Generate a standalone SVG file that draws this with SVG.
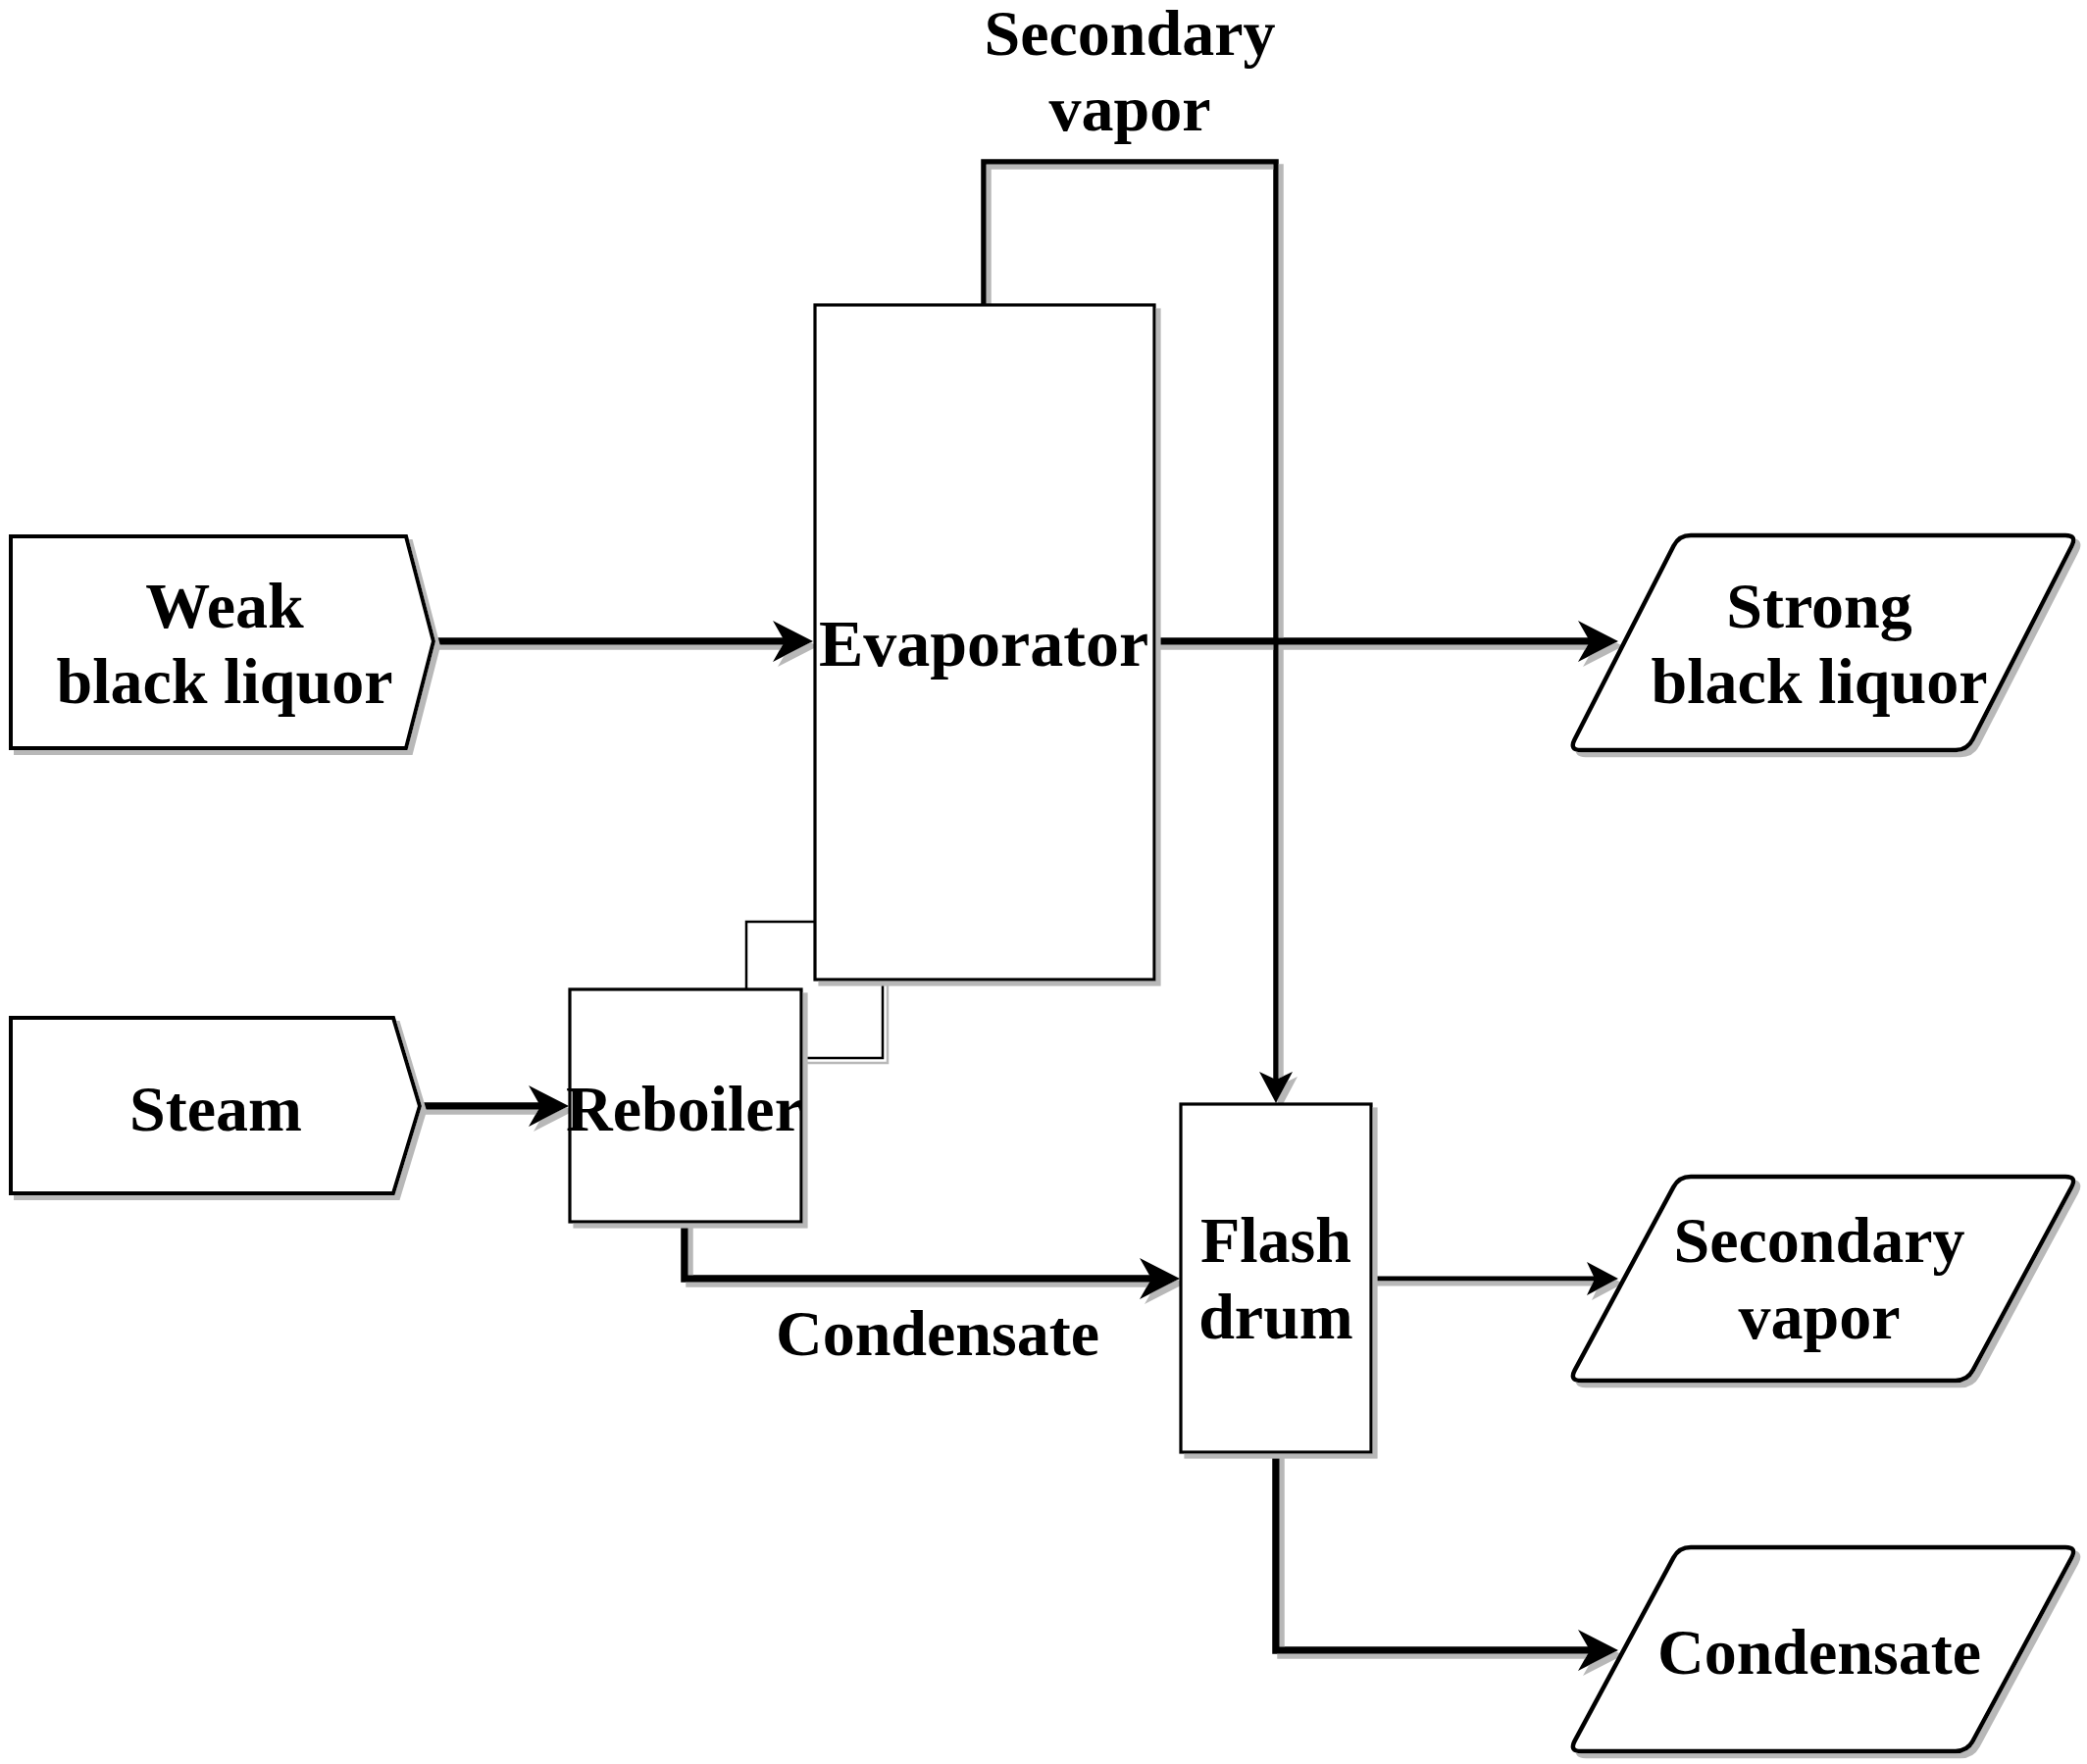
<svg xmlns="http://www.w3.org/2000/svg" width="2128" height="1799" viewBox="0 0 2128 1799">
<style>
.lbl{font-family:"Liberation Serif","Times New Roman",serif;font-weight:bold;font-size:66px;text-anchor:middle;fill:#000}
.box{fill:#fff;stroke:#000;stroke-width:3.2}
.io{fill:#fff;stroke:#000;stroke-width:4.5;stroke-linejoin:round}
.src{fill:#fff;stroke:#000;stroke-width:4}
.thick{fill:none;stroke:#000;stroke-width:7.5}
.mid{fill:none;stroke:#000;stroke-width:5.5}
.thin{fill:none;stroke:#000;stroke-width:5}
.hair{fill:none;stroke:#000;stroke-width:2.5}
</style>
<defs>
<filter id="sh" x="-5%" y="-5%" width="115%" height="115%">
<feOffset in="SourceAlpha" dx="5" dy="5" result="o"/>
<feFlood flood-color="#b8b8b8"/>
<feComposite in2="o" operator="in" result="s"/>
<feMerge><feMergeNode in="s"/><feMergeNode in="SourceGraphic"/></feMerge>
</filter>
<marker id="big" markerUnits="userSpaceOnUse" viewBox="0 0 41 42" markerWidth="41" markerHeight="42" refX="12" refY="21" orient="auto">
<path d="M0,0 L41,21 L0,42 L12,21 Z" fill="#000"/>
</marker>
<marker id="small" markerUnits="userSpaceOnUse" viewBox="0 0 32 34" markerWidth="32" markerHeight="34" refX="8" refY="17" orient="auto">
<path d="M0,0 L32,17 L0,34 L8,17 Z" fill="#000"/>
</marker>
</defs>
<rect width="2128" height="1799" fill="#fff"/>

<g id="connectors">
<g filter="url(#sh)">
<path class="thick" d="M442,654 L800,654" marker-end="url(#big)"/>
<path class="thick" d="M428,1128 L551,1128" marker-end="url(#big)"/>
<path class="thick" d="M1177,654 L1621,654" marker-end="url(#big)"/>
<path class="mid" d="M1003,311 L1003,165 L1301,165 L1301,1101" marker-end="url(#small)"/>
<path class="hair" d="M900,999 L900,1079 L817,1079"/>
<path class="thick" d="M698,1246 L698,1304 L1174,1304" marker-end="url(#big)"/>
<path class="thin" d="M1398,1304 L1626,1304" marker-end="url(#small)"/>
<path class="thick" d="M1301,1481 L1301,1683 L1621,1683" marker-end="url(#big)"/>
</g>
<path class="hair" d="M761,1009 L761,940 L830,940"/>
</g>

<g id="weak" filter="url(#sh)">
<path class="src" d="M11,547 L414,547 L442,654 L414,763 L11,763 Z"/>
</g>
<text class="lbl" x="229" y="640">Weak</text>
<text class="lbl" x="229" y="717">black liquor</text>

<g id="steam" filter="url(#sh)">
<path class="src" d="M11,1038 L401,1038 L428,1128 L401,1217 L11,1217 Z"/>
</g>
<text class="lbl" x="220" y="1153">Steam</text>

<g id="evaporator" filter="url(#sh)">
<rect class="box" x="831" y="311" width="346" height="688"/>
</g>
<text class="lbl" x="1003" y="679" style="font-size:68px">Evaporator</text>

<g id="reboiler" filter="url(#sh)">
<rect class="box" x="581" y="1009" width="236" height="237"/>
</g>
<text class="lbl" x="698" y="1153">Reboiler</text>

<g id="flash" filter="url(#sh)">
<rect class="box" x="1204" y="1126" width="194" height="355"/>
</g>
<text class="lbl" x="1301" y="1287">Flash</text>
<text class="lbl" x="1301" y="1365">drum</text>

<g id="strong" filter="url(#sh)">
<path class="io" d="M1724,546 L2106,546 Q2118,546 2112.5,556.7 L2011.5,754.3 Q2006,765 1994,765 L1612,765 Q1600,765 1605.5,754.3 L1706.5,556.7 Q1712,546 1724,546 Z"/>
</g>
<text class="lbl" x="1855" y="640">Strong</text>
<text class="lbl" x="1855" y="717">black liquor</text>

<g id="secvapor" filter="url(#sh)">
<path class="io" d="M1724,1200 L2106,1200 Q2118,1200 2112.3,1210.6 L2011.7,1397.4 Q2006,1408 1994,1408 L1612,1408 Q1600,1408 1605.7,1397.4 L1706.3,1210.6 Q1712,1200 1724,1200 Z"/>
</g>
<text class="lbl" x="1855" y="1287">Secondary</text>
<text class="lbl" x="1855" y="1365">vapor</text>

<g id="condensate" filter="url(#sh)">
<path class="io" d="M1724,1578 L2106,1578 Q2118,1578 2112.3,1588.6 L2011.7,1775.4 Q2006,1786 1994,1786 L1612,1786 Q1600,1786 1605.7,1775.4 L1706.3,1588.6 Q1712,1578 1724,1578 Z"/>
</g>
<text class="lbl" x="1855" y="1707">Condensate</text>

<g id="labels">
<text class="lbl" x="1152" y="56">Secondary</text>
<text class="lbl" x="1152" y="133">vapor</text>
<text class="lbl" x="956" y="1382">Condensate</text>
</g>
</svg>
